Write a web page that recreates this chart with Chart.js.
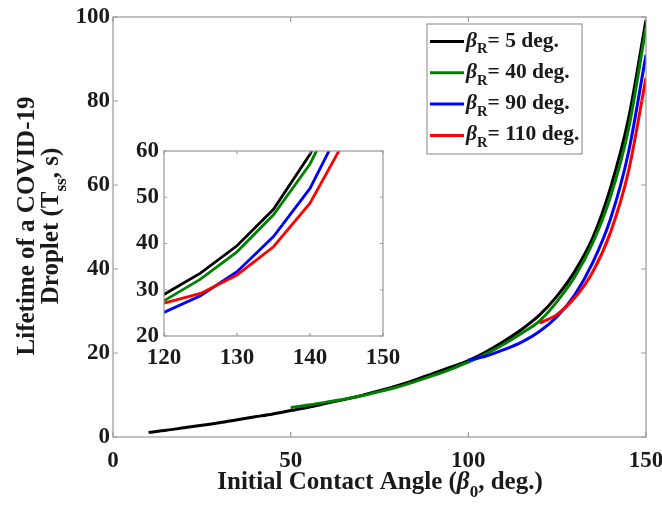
<!DOCTYPE html>
<html><head><meta charset="utf-8">
<script src="https://cdn.jsdelivr.net/npm/chart.js@4/dist/chart.umd.min.js"></script>
<style>
html,body{margin:0;padding:0;background:#fff;}
#wrap{position:relative;width:662px;height:505px;overflow:hidden;}
#main{position:absolute;left:0;top:0;}
#inset{position:absolute;left:118px;top:138px;}
</style></head><body>
<div id="wrap"><canvas id="main" width="662" height="505"></canvas><canvas id="inset" width="290" height="240"></canvas></div>
<script>
// ---- data ----
const angles5 = [10,15,20,25,30,35,40,45,50,55,60,65,70,75,80,85,90,95,100,105,110,115,120,125,130,135,140,145,150];
const life5 = [1.1,1.6,2.2,2.8,3.4,4.1,4.8,5.5,6.3,7.1,8.0,8.9,9.9,11.0,12.2,13.6,15.1,16.6,18.2,20.3,22.8,25.6,29.0,33.6,39.5,47.4,59.3,75.5,99.3];
const angles40 = [50,55,60,65,70,75,80,85,90,95,100,105,110,115,120,125,130,135,140,145,150];
const life40 = [7.0,7.6,8.3,9.0,9.8,10.8,11.9,13.2,14.6,16.1,17.8,19.8,22.1,24.7,27.6,32.3,38.2,46.2,57.2,73.0,97.5];
const angles90 = [100,105,110,115,120,125,130,135,140,145,150];
const life90 = [18.3,19.3,20.8,22.6,25.1,28.7,33.9,41.5,51.9,67.5,91.0];
const angles110 = [120,125,130,135,140,145,150];
const life110 = [27.1,29.2,33.2,39.3,48.7,63.0,85.5];
const seriesNames = ['5','40','90','110'];
const seriesColors = ['#000000','#008000','#0000ff','#ff0000'];
const xTicksMain = [0,50,100,150];
const yTicksMain = [0,20,40,60,80,100];
const xTicksInset = [120,130,140,150];
const yTicksInset = [20,30,40,50,60];

const FONT = "'Liberation Serif','Times New Roman',serif";
const TXT = '#1a1a1a';
const AXC = '#9a9a9a';

function pts(xs, ys){ return xs.map((x,i)=>({x:x,y:ys[i]})); }
function makeDatasets(lw, smooth){
  const all = [[angles5,life5],[angles40,life40],[angles90,life90],[angles110,life110]];
  return all.map((d,i)=>({
    label: seriesNames[i], data: pts(d[0],d[1]), borderColor: seriesColors[i],
    borderWidth: lw, pointRadius: 0, tension: smooth ? 0.4 : 0,
    cubicInterpolationMode: smooth ? 'monotone' : 'default',
    fill: false, clip: 0, order: 3 - i
  }));
}

// rich text: segs [{t, it, sub}]
function richWidth(ctx, segs, size){
  let w = 0;
  segs.forEach(s=>{ ctx.font = (s.it?'italic ':'')+'bold '+(s.sub?size*0.68:size)+'px '+FONT; w += ctx.measureText(s.t).width; });
  return w;
}
function drawRich(ctx, segs, x, y, size, align){
  const w = richWidth(ctx, segs, size);
  let cx = align==='center' ? x - w/2 : x;
  ctx.textBaseline = 'alphabetic'; ctx.textAlign = 'left';
  segs.forEach(s=>{
    const fs = s.sub?size*0.68:size;
    ctx.font = (s.it?'italic ':'')+'bold '+fs+'px '+FONT;
    ctx.fillText(s.t, cx, y + (s.sub? size*0.32 : 0));
    cx += ctx.measureText(s.t).width;
  });
}

function frameDraw(chart, xt, yt, tl){
  const ctx = chart.ctx, a = chart.chartArea, sx = chart.scales.x, sy = chart.scales.y;
  ctx.save();
  ctx.strokeStyle = AXC; ctx.lineWidth = 1.2;
  ctx.strokeRect(a.left, a.top, a.right-a.left, a.bottom-a.top);
  ctx.beginPath();
  xt.forEach(v=>{ const px = sx.getPixelForValue(v);
    ctx.moveTo(px, a.bottom); ctx.lineTo(px, a.bottom-tl);
    ctx.moveTo(px, a.top); ctx.lineTo(px, a.top+tl); });
  yt.forEach(v=>{ const py = sy.getPixelForValue(v);
    ctx.moveTo(a.left, py); ctx.lineTo(a.left+tl, py);
    ctx.moveTo(a.right, py); ctx.lineTo(a.right-tl, py); });
  ctx.stroke();
  ctx.restore();
}

const mainDeco = {
  id: 'mainDeco',
  afterDraw(chart){
    frameDraw(chart, xTicksMain, yTicksMain, 5);
    const ctx = chart.ctx;
    ctx.save();
    ctx.fillStyle = TXT;
    // x title
    drawRich(ctx, [{t:'Initial Contact Angle ('},{t:'\u03B2',it:true},{t:'0',sub:true},{t:', deg.)'}], 380, 489, 25, 'center');
    // y title
    ctx.save();
    ctx.translate(34, 226); ctx.rotate(-Math.PI/2);
    drawRich(ctx, [{t:'Lifetime of a COVID-19'}], 0, 0, 25, 'center');
    ctx.restore();
    ctx.save();
    ctx.translate(58, 226); ctx.rotate(-Math.PI/2);
    drawRich(ctx, [{t:'Droplet (T'},{t:'ss',sub:true},{t:', s)'}], 0, 0, 25, 'center');
    ctx.restore();
    // legend
    ctx.fillStyle = '#fff';
    ctx.fillRect(427, 24, 155, 130);
    ctx.strokeStyle = AXC; ctx.lineWidth = 1.2;
    ctx.strokeRect(427, 24, 155, 130);
    seriesNames.forEach((n,i)=>{
      const yy = 41.5 + i*31.3;
      ctx.strokeStyle = seriesColors[i]; ctx.lineWidth = 3;
      ctx.beginPath(); ctx.moveTo(430, yy); ctx.lineTo(464, yy); ctx.stroke();
      ctx.fillStyle = TXT;
      drawRich(ctx, [{t:'\u03B2',it:true},{t:'R',sub:true},{t:'= '+n+' deg.'}], 466, yy+5, 21.5, 'left');
    });
    ctx.restore();
  }
};
const insetDeco = {
  id: 'insetDeco',
  afterDraw(chart){ frameDraw(chart, xTicksInset, yTicksInset, 3); }
};

const tickFont = {family: FONT, size: 23, weight: 'bold'};

new Chart(document.getElementById('main'), {
  type: 'line',
  data: { datasets: makeDatasets(3, true) },
  plugins: [mainDeco],
  options: {
    responsive: false, animation: false, devicePixelRatio: 1,
    layout: { padding: {left: 0, right: 16, top: 17, bottom: 0} },
    plugins: { legend: {display: false}, tooltip: {enabled: false} },
    scales: {
      x: { type: 'linear', min: 0, max: 150,
        afterBuildTicks(s){ s.ticks = xTicksMain.map(v=>({value:v})); },
        ticks: { font: tickFont, color: TXT, padding: 10, maxRotation: 0, autoSkip: false },
        grid: { display: false, drawTicks: false }, border: { display: false },
        afterFit(s){ s.height = 68; s.paddingLeft = 0; s.paddingRight = 0; } },
      y: { type: 'linear', min: 0, max: 100,
        afterBuildTicks(s){ s.ticks = yTicksMain.map(v=>({value:v})); },
        ticks: { font: tickFont, color: TXT, padding: 3, autoSkip: false },
        grid: { display: false, drawTicks: false }, border: { display: false },
        afterFit(s){ s.width = 113; s.paddingTop = 0; s.paddingBottom = 0; } }
    }
  }
});

new Chart(document.getElementById('inset'), {
  type: 'line',
  data: { datasets: makeDatasets(2.8, false) },
  plugins: [insetDeco],
  options: {
    responsive: false, animation: false, devicePixelRatio: 1,
    layout: { padding: {left: 0, right: 25, top: 13, bottom: 0} },
    plugins: { legend: {display: false}, tooltip: {enabled: false} },
    scales: {
      x: { type: 'linear', min: 120, max: 150,
        afterBuildTicks(s){ s.ticks = xTicksInset.map(v=>({value:v})); },
        ticks: { font: tickFont, color: TXT, padding: 8, maxRotation: 0, autoSkip: false },
        grid: { display: false, drawTicks: false }, border: { display: false },
        afterFit(s){ s.height = 42; s.paddingLeft = 0; s.paddingRight = 0; } },
      y: { type: 'linear', min: 20, max: 60,
        afterBuildTicks(s){ s.ticks = yTicksInset.map(v=>({value:v})); },
        ticks: { font: tickFont, color: TXT, padding: 5, autoSkip: false },
        grid: { display: false, drawTicks: false }, border: { display: false },
        afterFit(s){ s.width = 46; s.paddingTop = 0; s.paddingBottom = 0; } }
    }
  }
});
</script>
</body></html>
